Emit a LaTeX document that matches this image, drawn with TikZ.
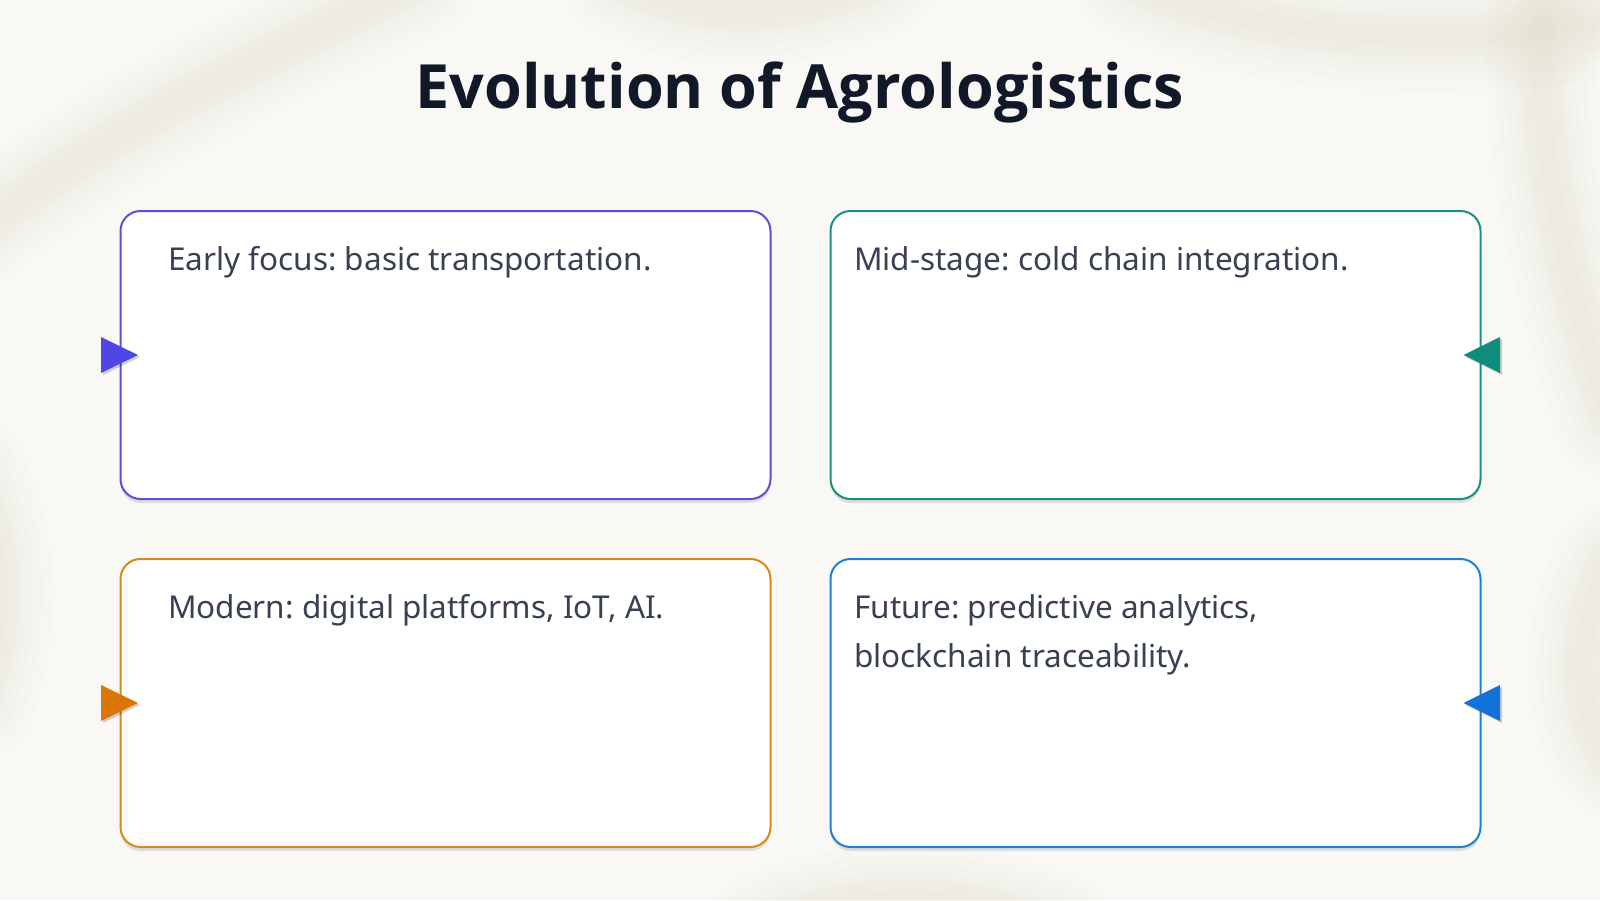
\documentclass[tikz,border=0pt]{standalone}
\usepackage{fontspec}
\setmainfont{Noto Sans}
\newfontfamily\titlefont{Open Sans}
\usetikzlibrary{shadows,calc}
\definecolor{bgc}{HTML}{F9F8F5}
\definecolor{haze}{HTML}{D9D1B2}
\definecolor{titlec}{HTML}{111827}
\definecolor{bodyc}{HTML}{374151}
\definecolor{c1}{HTML}{5B50D6}
\definecolor{c1t}{HTML}{4F46E5}
\definecolor{c2}{HTML}{1A9080}
\definecolor{c2t}{HTML}{0F8C7C}
\definecolor{c3}{HTML}{D68A1C}
\definecolor{c3t}{HTML}{D97706}
\definecolor{c4}{HTML}{1F80D0}
\definecolor{c4t}{HTML}{1372D9}
\tikzset{
  card/.style={draw, line width=2pt, fill=white, rounded corners=20pt,
    minimum width=650pt, minimum height=288pt, anchor=north west, inner sep=0pt,
    drop shadow={shadow xshift=0pt, shadow yshift=-4pt, opacity=0.10, fill=black}},
  bodytext/.style={font=\fontsize{31.5}{49}\selectfont, text=bodyc, anchor=base west, inner sep=0pt, align=left},
  titletext/.style={font=\titlefont\fontsize{61}{70}\selectfont\bfseries, text=titlec, anchor=base, inner sep=0pt},
  hazeband/.style={draw=haze, line cap=round, opacity=0.045},
  tri/.style={drop shadow={shadow xshift=2pt, shadow yshift=-2pt, opacity=0.18, fill=black}}
}
\newcommand{\hazepath}[1]{%
  \foreach \w in {110,90,72,56,42,30,18}{\draw[hazeband, line width=\w pt] #1;}}
\begin{document}
\frenchspacing
\begin{tikzpicture}[x=1pt,y=-1pt]
\useasboundingbox (0,0) rectangle (1600,900);
\fill[bgc] (0,0) rectangle (1600,900);
% blurred background bands
\hazepath{(-20,230) .. controls (120,120) and (260,60) .. (420,-20)}
\hazepath{(620,-20) .. controls (700,20) and (780,20) .. (880,-20)}
\hazepath{(1130,-20) .. controls (1250,40) and (1450,50) .. (1620,20)}
\hazepath{(1545,-20) .. controls (1530,120) and (1560,260) .. (1610,420)}
\hazepath{(-30,470) .. controls (0,540) and (10,600) .. (-20,700)}
\hazepath{(760,930) .. controls (850,890) and (960,890) .. (1060,930)}
\hazepath{(1610,560) .. controls (1580,620) and (1570,700) .. (1610,760)}
% title
\node[titletext] (title) at (800,108) {Evolution of Agrologistics};
% cards
\node[card, draw=c1] (b1) at (119.5,210) {};
\node[card, draw=c2] (b2) at (829.5,210) {};
\node[card, draw=c3] (b3) at (119.5,558) {};
\node[card, draw=c4] (b4) at (829.5,558) {};
% texts
\node[bodytext] (t1) at (168,270) {Early focus: basic transportation.};
\node[bodytext] (t2) at (854,270) {Mid-stage: cold chain integration.};
\node[bodytext] (t3) at (168,618) {Modern: digital platforms, IoT, AI.};
\node[bodytext] (t4) at (854,667) {Future: predictive analytics,\\blockchain traceability.};
% triangle markers
\fill[c1t, tri] ($(b1.west)+(-18.5,-18)$) -- ($(b1.west)+(18.5,0)$) -- ($(b1.west)+(-18.5,18)$) -- cycle;
\fill[c3t, tri] ($(b3.west)+(-18.5,-18)$) -- ($(b3.west)+(18.5,0)$) -- ($(b3.west)+(-18.5,18)$) -- cycle;
\fill[c2t, tri] ($(b2.east)+(18.5,-18)$) -- ($(b2.east)+(-18,0)$) -- ($(b2.east)+(18.5,18)$) -- cycle;
\fill[c4t, tri] ($(b4.east)+(18.5,-18)$) -- ($(b4.east)+(-18,0)$) -- ($(b4.east)+(18.5,18)$) -- cycle;
\end{tikzpicture}
\end{document}
